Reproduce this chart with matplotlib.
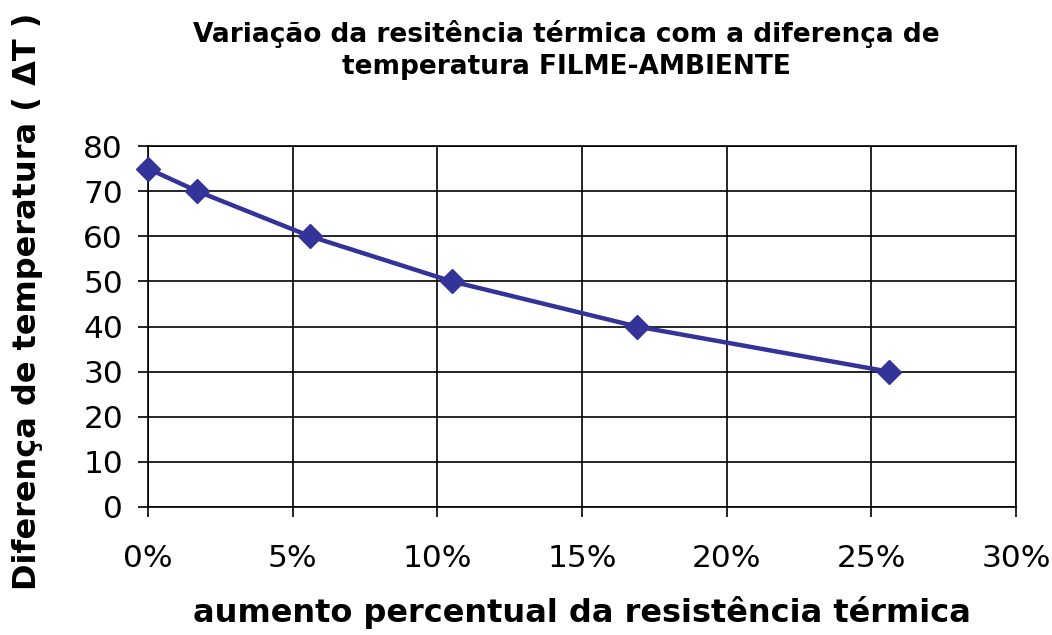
import matplotlib
matplotlib.use("Agg")
import matplotlib.pyplot as plt
from matplotlib.ticker import FuncFormatter

# aumento percentual da resistencia termica (%) e diferenca de temperatura
aumento = [0.0, 1.7, 5.6, 10.5, 16.9, 25.6]
delta_t = [75, 70, 60, 50, 40, 30]

x_ticks = [0, 5, 10, 15, 20, 25, 30]
y_ticks = [0, 10, 20, 30, 40, 50, 60, 70, 80]


def graph_plot(aumento, delta_t):
    fig = plt.figure(figsize=(10.52, 6.35), dpi=100)
    ax = fig.add_axes([0.1407, 0.2016, 0.8251, 0.5684])

    ax.plot(aumento, delta_t, color="#333399", linewidth=3.2,
            marker="D", markersize=12, markerfacecolor="#333399",
            markeredgecolor="#333399", clip_on=False, zorder=3)

    ax.set_xlim(0, 30)
    ax.set_ylim(0, 80)
    ax.set_xticks(x_ticks)
    ax.set_yticks(y_ticks)
    ax.xaxis.set_major_formatter(FuncFormatter(lambda v, p: "%d%%" % v))
    ax.grid(True, color="black", linewidth=1.2)
    ax.set_axisbelow(True)
    for s in ax.spines.values():
        s.set_color("black")
        s.set_linewidth(1.2)
    ax.tick_params(direction="out", length=7, width=1.2, labelsize=22.5)
    ax.tick_params(axis="x", pad=20)
    ax.tick_params(axis="y", pad=11)

    ax.set_xlabel("aumento percentual da resistência térmica",
                  fontsize=23, fontweight="bold", labelpad=16)
    fig.text(28 / 1052, 1 - 301 / 635, "Diferença de temperatura ( \u0394T )",
             fontsize=23, fontweight="bold", rotation=90,
             ha="center", va="center")
    fig.text(566 / 1052, 1 - 50 / 635,
             "Variação da resitência térmica com a diferença de\ntemperatura FILME-AMBIENTE",
             fontsize=19, fontweight="bold", ha="center", va="center",
             linespacing=1.3)

    fig.savefig("out.png", dpi=100)


def main():
    graph_plot(aumento, delta_t)


if __name__ == "__main__":
    main()
